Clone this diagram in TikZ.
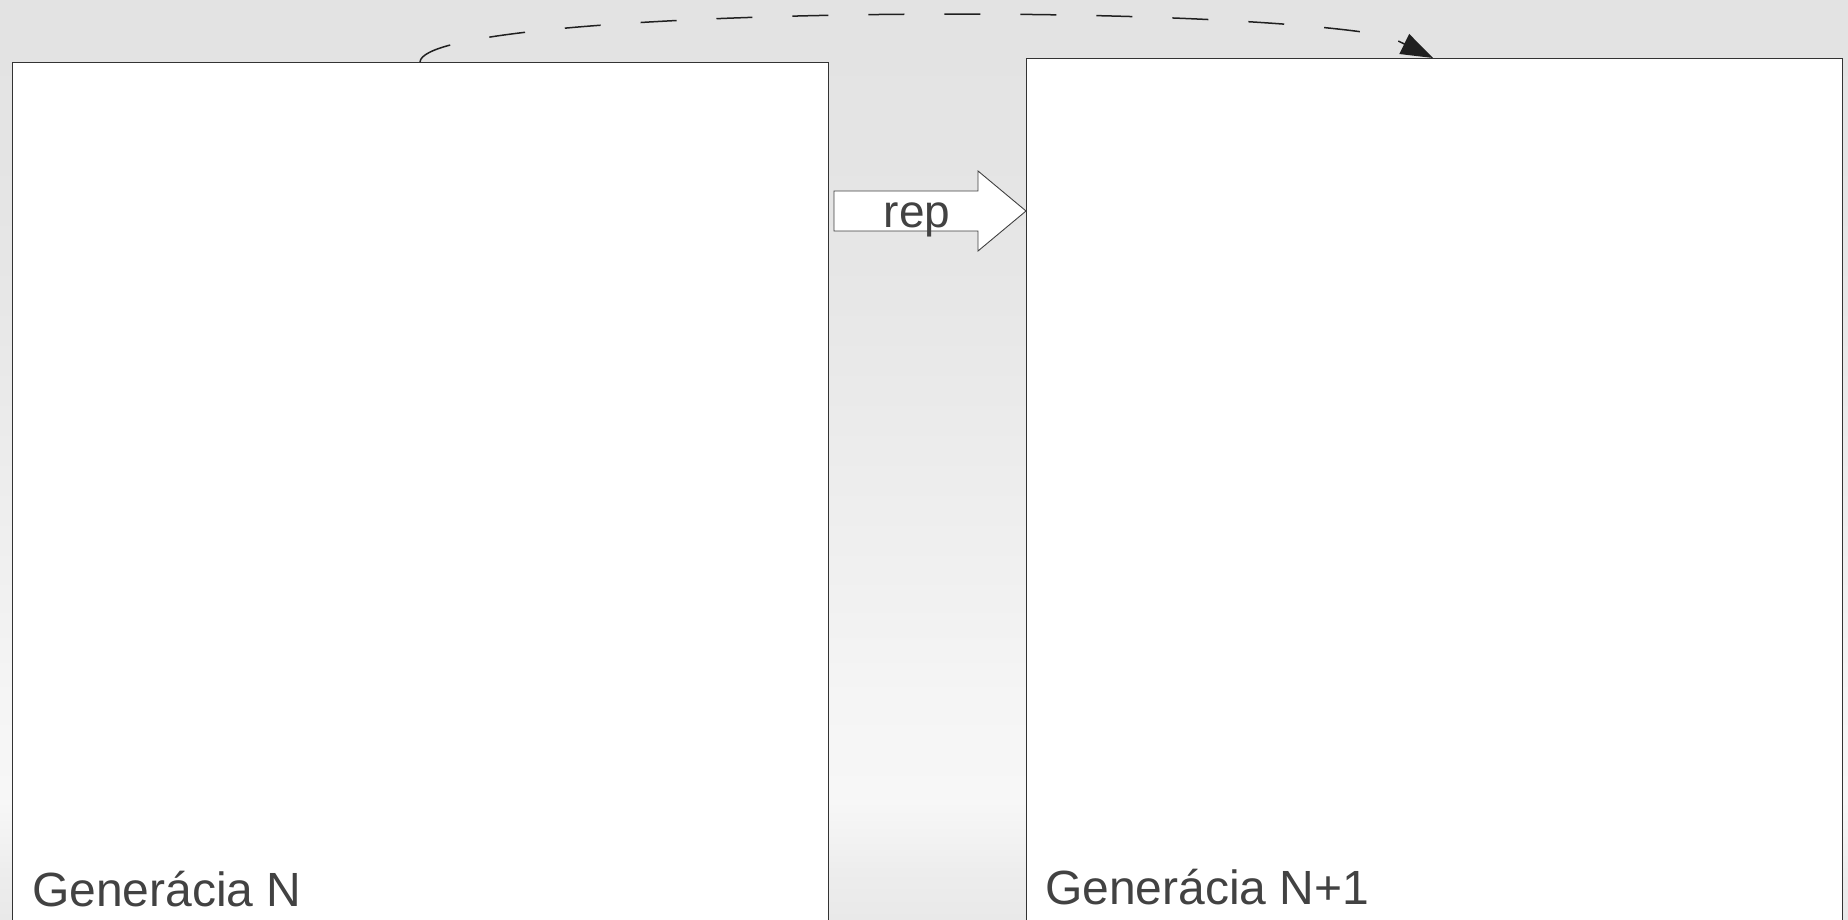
\documentclass[tikz,border=0pt]{standalone}
\usepackage{fontspec}
\setmainfont{Liberation Sans}
\usetikzlibrary{arrows.meta}

\definecolor{bgA}{HTML}{E9E9E9}
\definecolor{bgB}{HTML}{EDEDED}
\definecolor{bgC}{HTML}{F2F2F2}
\definecolor{bgD}{HTML}{F7F7F7}
\definecolor{bgE}{HTML}{F5F5F5}
\definecolor{bgF}{HTML}{F1F1F1}
\definecolor{bgG}{HTML}{ECECEC}
\definecolor{bgH}{HTML}{E7E7E7}
\definecolor{bgI}{HTML}{E4E4E4}
\definecolor{bgJ}{HTML}{E3E3E3}
\definecolor{framecol}{HTML}{333333}
\definecolor{textcol}{HTML}{424242}
\definecolor{curvecol}{HTML}{202020}

% backdrop: light in the lower part, darker towards the top and the very bottom
\pgfdeclareverticalshading{backdrop}{100bp}{%
  color(0bp)=(bgA); color(25bp)=(bgA); color(27.7bp)=(bgB);
  color(29.35bp)=(bgC); color(31.5bp)=(bgD); color(37bp)=(bgE);
  color(42.4bp)=(bgF); color(50.5bp)=(bgG); color(58.7bp)=(bgH);
  color(66.8bp)=(bgI); color(75bp)=(bgJ); color(100bp)=(bgJ)}

\tikzset{
  panel/.style={draw=framecol, fill=white, line width=1.4pt, inner sep=0pt,
    anchor=north west},
  caption/.style={text=textcol, font=\fontsize{48}{56}\selectfont,
    anchor=base west, inner sep=0pt},
  blockarrow/.style={draw=black!75, fill=white, line width=0.9pt, line join=miter},
  flow/.style={draw=curvecol, line width=1.5pt, dash pattern=on 36pt off 40pt,
    -{Triangle[length=32pt,width=22pt]}},
}

\begin{document}
\begin{tikzpicture}[x=1pt, y=-1pt]
  \useasboundingbox (0,0) rectangle (1848,920);
  \clip (0,0) rectangle (1848,920);
  \shade[shading=backdrop] (0,0) rectangle (1848,920);

  % the two generation panels
  \node[panel, minimum width=816pt, minimum height=880pt] (genN) at (12,62) {};
  \node[panel, minimum width=816pt, minimum height=884pt] (genNN) at (1026,58) {};

  \node[caption] (capN) at (32,906.5) {Generácia N};
  \node[caption] (capNN) at (1045,904.5) {Generácia N+1};

  % block arrow between the panels
  \draw[blockarrow] (834,191) -- (978,191) -- (978,171) -- (genNN.west |- 0,211)
    -- (978,251) -- (978,231) -- (834,231) -- cycle;
  \node[text=textcol, font=\fontsize{46}{54}\selectfont, anchor=base, inner sep=0pt]
    (rep) at (917,228) {rep};

  % dashed arc over the top, from panel to panel
  \coordinate (arcstart) at (genN.north west -| 420,0);
  \coordinate (arcend) at (genNN.north west -| 1433,0);
  \path[flow] (arcstart) .. controls (424,8) and (1190,0) .. (1388,36) -- (arcend);
\end{tikzpicture}
\end{document}
